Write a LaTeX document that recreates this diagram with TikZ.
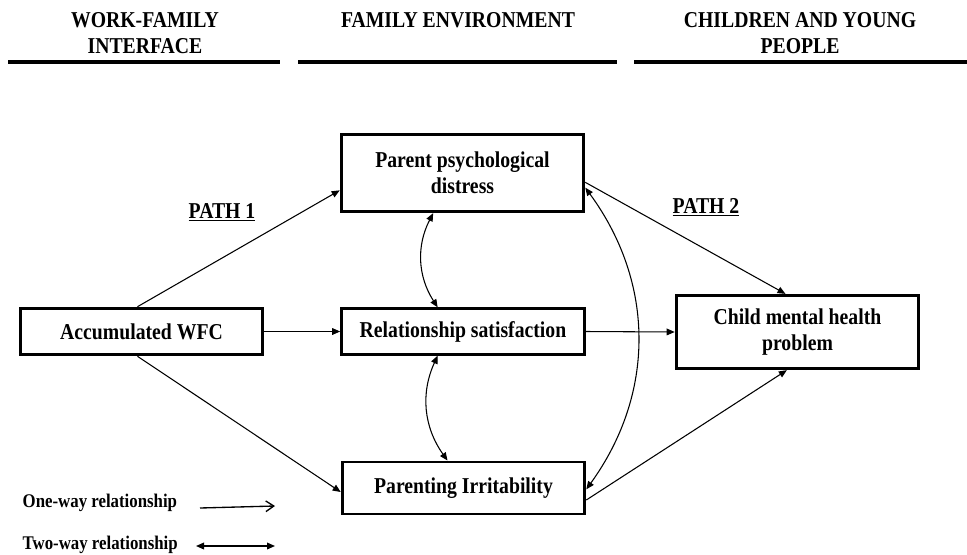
\documentclass[tikz,border=0pt]{standalone}
\usepackage{fontspec}
\setmainfont{Liberation Serif}[FakeStretch=0.87]
\usetikzlibrary{arrows.meta}

\tikzset{
	box/.style={draw, line width=2.2pt, minimum width=182pt, align=center,
		font=\fontsize{17pt}{19.5pt}\selectfont\bfseries},
	head/.style={align=center, font=\fontsize{17pt}{19.5pt}\selectfont\bfseries},
	conn/.style={line width=0.8pt, -{Triangle[length=6pt,width=5pt]}},
	twoway/.style={line width=0.8pt, {Triangle[length=6pt,width=5pt]}-{Triangle[length=6pt,width=5pt]}},
	legend/.style={anchor=west, font=\fontsize{14.5pt}{17pt}\selectfont\bfseries}
}

\begin{document}
\begin{tikzpicture}[x=0.75pt, y=-0.75pt]
	\useasboundingbox (0,0) rectangle (967,554);

	% headings
	\node[head] (hwork) at (145,33) {WORK-FAMILY\\INTERFACE};
	\node[head] (hfam) at (458,20) {FAMILY ENVIRONMENT};
	\node[head] (hchild) at (800,33) {CHILDREN AND YOUNG\\PEOPLE};
	\draw[line width=3pt] (8,62) -- (280,62);
	\draw[line width=3pt] (298,62) -- (617,62);
	\draw[line width=3pt] (634,62) -- (967,62);

	% boxes
	\node[box, minimum height=35pt] (wfc) at (141.5,331.5) {Accumulated WFC};
	\node[box, minimum height=58pt] (ppd) at (462.5,173) {Parent psychological\\distress};
	\node[box, minimum height=34pt] (rs) at (463,331.5) {Relationship satisfaction};
	\node[box, minimum height=39pt] (pi) at (463.5,488) {Parenting Irritability};
	\node[box, minimum height=55pt] (cmh) at (797.5,332) {Child mental health\\problem};

	% path labels
	\node[head] (path1) at (222,212) {\underline{PATH 1}};
	\node[head] (path2) at (706,207) {\underline{PATH 2}};

	% path 1
	\draw[conn] ([xshift=-3pt]wfc.north) -- ([yshift=-13pt]ppd.west);
	\draw[conn] (wfc.east) -- (rs.west);
	\draw[conn] ([xshift=-3pt]wfc.south) -- ([yshift=-3pt]pi.west);

	% path 2
	\draw[conn] ([yshift=-7pt]ppd.east) -- ([xshift=-9pt]cmh.north);
	\draw[conn] (rs.east) -- (cmh.west);
	\draw[conn] ([yshift=-9pt]pi.east) -- ([xshift=-8pt]cmh.south);

	% two-way links
	\draw[twoway] ([xshift=-22pt]ppd.south) to[bend right=30] ([xshift=-19pt]rs.north);
	\draw[twoway] ([xshift=-19pt]rs.south) to[bend right=30] ([xshift=-12pt]pi.north);
	\draw[twoway] ([yshift=-11pt]ppd.east) to[bend left=36] ([yshift=-1pt]pi.east);

	% legend
	\node[legend] (one) at (18,503) {One-way relationship};
	\node[legend] (two) at (18,545) {Two-way relationship};
	\coordinate (onea) at (200,508);
	\coordinate (oneb) at (275,506);
	\coordinate (twoa) at (196,546);
	\coordinate (twob) at (275,546);
	\draw[line width=1pt, -{Straight Barb[length=6pt,width=8pt]}] (onea) -- (oneb);
	\draw[twoway, line width=1pt] (twoa) -- (twob);
\end{tikzpicture}
\end{document}
